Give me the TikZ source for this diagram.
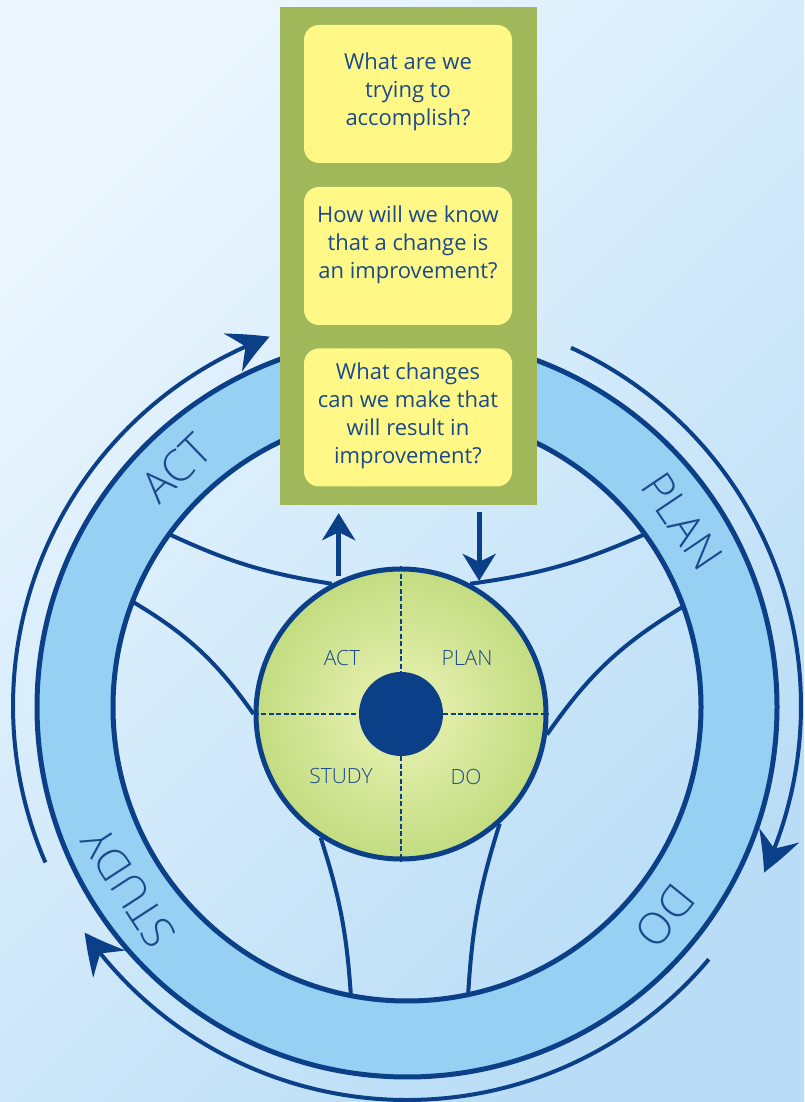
\documentclass[tikz,border=0pt]{standalone}
\usepackage{fontspec}
\setmainfont{Open Sans}
\newfontfamily\lightfont{Open Sans Light}
\usetikzlibrary{arrows.meta,bending}

\definecolor{lineblue}{HTML}{0B3F88}
\definecolor{textblue}{HTML}{1A4A8C}
\definecolor{ringblue}{HTML}{96D0F2}
\definecolor{boardgreen}{HTML}{A0B85A}
\definecolor{noteyellow}{HTML}{FFF886}
\definecolor{hublight}{HTML}{DFECA6}
\definecolor{hubgreen}{HTML}{B2D36A}
\definecolor{bglight}{HTML}{EBF6FE}
\definecolor{bgdark}{HTML}{B9DDF6}

\pgfdeclareradialshading{hubglow}{\pgfpoint{0bp}{0bp}}{color(0bp)=(hublight); color(8bp)=(hublight); color(35bp)=(hubgreen); color(50bp)=(hubgreen)}

\begin{document}
\begin{tikzpicture}
  [x=1pt,y=1pt,line join=round,
   rim/.style={draw=lineblue,line width=5pt},
   spoke/.style={draw=lineblue,line width=4pt},
   roundarrow/.style={draw=lineblue,line width=4pt,-{Stealth[length=40pt,width=42pt,inset=14pt,bend]}},
   flow/.style={draw=lineblue,line width=5pt,-{Stealth[length=27pt,width=33pt,inset=8pt]}},
   hub/.style={circle,draw=lineblue,line width=5pt,minimum size=290pt,inner sep=0pt,shade,shading=hubglow},
   hubdot/.style={circle,fill=lineblue,minimum size=84pt,inner sep=0pt},
   quarter/.style={draw=lineblue,line width=2.7pt,dash pattern=on 5pt off 2.5pt},
   hublabel/.style={text=textblue,inner sep=0pt,font=\lightfont\fontsize{21}{24}\selectfont},
   ringlabel/.style={text=textblue,inner sep=0pt,font=\lightfont\fontsize{44}{44}\selectfont},
   board/.style={fill=boardgreen,minimum width=257pt,minimum height=498pt,inner sep=0pt},
   note/.style={fill=noteyellow,rounded corners=15pt,minimum width=208pt,minimum height=138pt,inner sep=0pt},
   question/.style={text=textblue,align=center,inner sep=0pt,font=\fontsize{22}{28}\selectfont}]

  \useasboundingbox (0,0) rectangle (804,1102);
  \shade[top color=bglight,bottom color=bgdark,shading angle=45] (0,0) rectangle (804,1102);

  \coordinate (c) at (407,395);
  \coordinate (o) at (407,396);

  \draw[roundarrow] (o) ++(203.4:394) arc[start angle=203.4,end angle=110.4,radius=394];
  \draw[roundarrow] (o) ++(65.4:394) arc[start angle=65.4,end angle=-25,radius=394];
  \draw[roundarrow] (o) ++(-40:394) arc[start angle=-40,end angle=-144.9,radius=394];

  \fill[ringblue,even odd rule] (c) circle[radius=370] (c) circle[radius=294];
  \draw[rim] (c) circle[radius=370];
  \draw[rim] (c) circle[radius=294];

  \foreach \a/\t in {134/ACT,34/PLAN,-39/DO,213/STUDY}
    \path (c) ++(\a:332) node[ringlabel,rotate=\a-90] (w\t) {\t};

  \node[hub] (hb) at (401,388) {};

  \foreach \n/\a in {1/144,2/159,3/36,4/20,5/259,6/282}
    \path (c) ++(\a:294) coordinate (r\n);

  \foreach \from/\to/\s in {r1/118/-8,r2/180/12,r3/62/8,r4/352/-12,r5/237/-7,r6/312/7}
    \draw[spoke] (\from) to[bend left=\s] (hb.\to);

  \node[hubdot] (d) at (hb) {};
  \draw[quarter] (hb.north) -- (d.north) (d.south) -- (hb.south)
                 (hb.west) -- (d.west) (d.east) -- (hb.east);

  \node[hublabel] (a) at (342,444) {ACT};
  \node[hublabel] (p) at (467,444) {PLAN};
  \node[hublabel] (s) at (341,326) {STUDY};
  \node[hublabel] (o2) at (466,325) {DO};

  \node[board] (g) at (408.5,846) {};
  \node[note] (q1) at (408,1008) {};
  \node[note] (q2) at (408,846) {};
  \node[note] (q3) at (408,684.5) {};
  \node[question] (t1) at (408,1010) {What are we\\trying to\\accomplish?};
  \node[question] (t2) at (408,857) {How will we know\\that a change is\\an improvement?};
  \node[question] (t3) at (408,686) {What changes\\can we make that\\will result in\\improvement?};

  \draw[flow,shorten <=4pt,shorten >=8pt] (hb.115) -- (hb.115 |- g.south);
  \draw[flow,shorten <=7pt,shorten >=8pt] (hb.58 |- g.south) -- (hb.58);
\end{tikzpicture}
\end{document}
